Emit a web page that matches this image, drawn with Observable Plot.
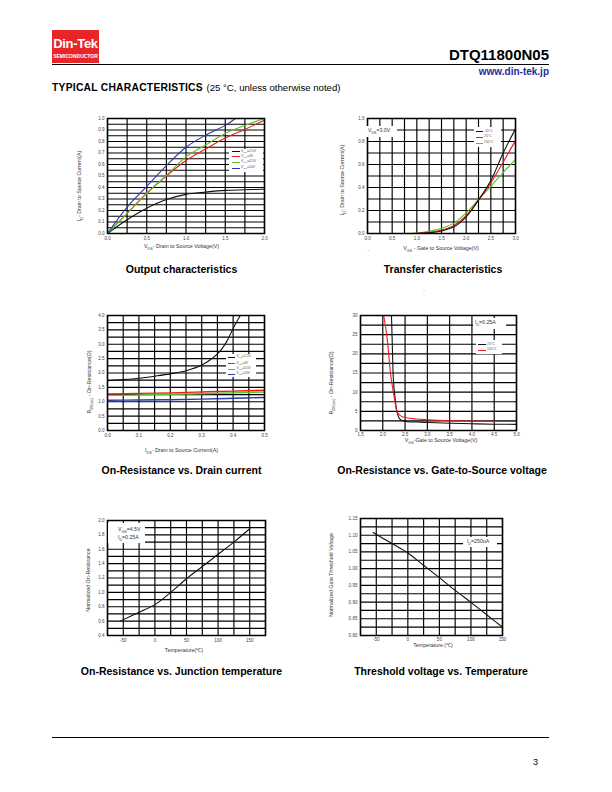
<!DOCTYPE html>
<html><head><meta charset="utf-8">
<script src="https://cdn.jsdelivr.net/npm/d3@7"></script>
<script src="https://cdn.jsdelivr.net/npm/@observablehq/plot@0.6"></script>
<style>
body{margin:0;background:#fff;}
#page{position:relative;width:612px;height:792px;background:#fff;font-family:"Liberation Sans",Arial,sans-serif;overflow:hidden;color:#000}
.t{position:absolute;white-space:nowrap;line-height:1}
sub{font-size:70%;vertical-align:-0.35em;line-height:0}
.box{position:absolute;background:#fff}
.sw{position:absolute;height:1px}
</style>
</head><body><div id="page"></div>
<script>
// ---------- DATA ----------
// Output characteristics
const outVds    = [0, 0.25, 0.5, 0.75, 1.0, 1.25, 1.5, 1.75, 2.0];
const outId2v5  = [0, 0.12, 0.22, 0.295, 0.34, 0.36, 0.375, 0.38, 0.385];
const outId4    = [0, 0.175, 0.35, 0.50, 0.635, 0.735, 0.83, 0.905, 0.985];
const outId4v5  = [0, 0.175, 0.35, 0.505, 0.665, 0.77, 0.87, 0.94, 1.0];
const outVds10  = [0, 0.25, 0.5, 0.75, 1.0, 1.25, 1.5, 1.63];
const outId10   = [0, 0.23, 0.41, 0.59, 0.75, 0.855, 0.94, 1.0];
const outLegend = ["V<sub>GS</sub>=2.5V","V<sub>GS</sub>=4V","V<sub>GS</sub>=4.5V","V<sub>GS</sub>=10V"];
// Transfer characteristics
const trVgs  = [0.75, 1.0, 1.25, 1.5, 1.75, 2.0, 2.25, 2.5, 2.75, 3.0];
const trM55  = [0, 0, 0.006, 0.022, 0.058, 0.145, 0.29, 0.46, 0.70, 0.91];
const tr25   = [0, 0.002, 0.01, 0.03, 0.07, 0.155, 0.29, 0.44, 0.62, 0.81];
const tr150  = [0, 0.005, 0.02, 0.045, 0.09, 0.18, 0.295, 0.41, 0.53, 0.645];
const trLegend = ["-55°C","25°C","150°C"];
// On-resistance vs drain current
const rdIdA   = [0, 0.05, 0.1, 0.15, 0.2, 0.25, 0.3, 0.33, 0.36, 0.38, 0.40, 0.423];
const rd2v5   = [1.73, 1.77, 1.82, 1.89, 1.97, 2.08, 2.28, 2.48, 2.78, 3.1, 3.55, 4.0];
const rdIdB   = [0, 0.1, 0.2, 0.3, 0.4, 0.5];
const rd4     = [1.27, 1.29, 1.31, 1.34, 1.37, 1.40];
const rd4v5   = [1.22, 1.24, 1.26, 1.28, 1.31, 1.34];
const rd10    = [1.05, 1.06, 1.07, 1.09, 1.12, 1.15];
// On-resistance vs gate voltage
const rgV25   = [2.195, 2.21, 2.23, 2.27, 2.32, 2.4, 2.55, 2.75, 3.0, 3.5, 4.0, 4.5, 5.0];
const rgR25   = [30, 23.9, 15.2, 9.1, 4.8, 2.8, 2.3, 2.2, 2.1, 1.9, 1.75, 1.65, 1.6];
const rgV150  = [2.02, 2.1, 2.17, 2.25, 2.32, 2.43, 2.5, 2.75, 3.0, 3.5, 4.0, 4.5, 5.0];
const rgR150  = [30, 23.9, 15.2, 9.1, 4.8, 3.6, 3.4, 3.0, 2.8, 2.55, 2.45, 2.38, 2.35];
const rgLegend = ["25°C","150°C"];
// Normalized on-resistance vs temperature
const tempR   = [-55, -25, 0, 25, 50, 75, 100, 125, 150];
const normR   = [0.6, 0.725, 0.83, 1.0, 1.19, 1.36, 1.53, 1.70, 1.885];
// Normalized threshold voltage vs temperature
const tempV   = [-55, -25, 0, 25, 50, 75, 100, 125, 150];
const normV   = [1.108, 1.075, 1.047, 1.01, 0.973, 0.935, 0.899, 0.862, 0.825];
// Tick labels
const t1x = [0, 0.5, 1.0, 1.5, 2.0];
const t1y = [0, 0.1, 0.2, 0.3, 0.4, 0.5, 0.6, 0.7, 0.8, 0.9, 1.0];
const t2x = [0, 0.5, 1.0, 1.5, 2.0, 2.5, 3.0];
const t2y = [0, 0.2, 0.4, 0.6, 0.8, 1.0];
const t3x = [0, 0.1, 0.2, 0.3, 0.4, 0.5];
const t3y = [0, 0.5, 1.0, 1.5, 2.0, 2.5, 3.0, 3.5, 4.0];
const t4x = [1.5, 2.0, 2.5, 3.0, 3.5, 4.0, 4.5, 5.0];
const t4y = [0, 5, 10, 15, 20, 25, 30];
const t5x = [-50, 0, 50, 100, 150];
const t5y = [0.4, 0.6, 0.8, 1.0, 1.2, 1.4, 1.6, 1.8, 2.0];
const t6x = [-50, 0, 50, 100, 150];
const t6y = [0.80, 0.85, 0.90, 0.95, 1.00, 1.05, 1.10, 1.15];

const BLACK = "#111", RED = "#ee1c1c", GREEN = "#5cc02e", BLUE = "#2a3aa8";

// ---------- HELPERS ----------
const page = document.getElementById("page");
function txt(html, x, y, opts = {}) {
  const d = document.createElement("div");
  d.className = "t";
  d.innerHTML = html;
  d.style.left = x + "px"; d.style.top = y + "px";
  d.style.fontSize = (opts.size || 5) + "px";
  if (opts.bold) d.style.fontWeight = "bold";
  if (opts.color) d.style.color = opts.color;
  if (opts.ls) d.style.letterSpacing = opts.ls + "px";
  let tr = opts.anchor === "middle" ? "translate(-50%,-50%)" : opts.anchor === "end" ? "translate(-100%,-50%)" : "translate(0,-50%)";
  if (opts.rotate) tr += " rotate(-90deg)";
  d.style.transform = tr;
  page.appendChild(d);
  return d;
}
function box(x, y, w, h) {
  const d = document.createElement("div");
  d.className = "box";
  Object.assign(d.style, {left: x + "px", top: y + "px", width: w + "px", height: h + "px"});
  page.appendChild(d);
}
function legend(items, colors, bx, by, bw, bh, sx, sw, tx, rows, fs) {
  box(bx, by, bw, bh);
  items.forEach((it, i) => {
    const s = document.createElement("div");
    s.className = "sw";
    Object.assign(s.style, {left: sx + "px", top: (rows[i] - 0.5) + "px", width: sw + "px", background: colors[i]});
    page.appendChild(s);
    txt(it, tx, rows[i], {size: fs, color: "#555"});
  });
}
function seriesLine(xs, ys, color, w = 1.1, curve = "catmull-rom") {
  return Plot.line(xs.map((v, i) => ({x: v, y: ys[i]})), {x: "x", y: "y", stroke: color, strokeWidth: w, curve, clip: true});
}
function chart(c) {
  const svg = Plot.plot({
    width: c.w, height: c.h,
    marginLeft: c.ml, marginRight: c.w - c.ml - c.pw, marginTop: c.mt, marginBottom: c.h - c.mt - c.ph,
    x: {domain: c.xd}, y: {domain: c.yd},
    style: {fontFamily: "Liberation Sans, Arial, sans-serif", background: "transparent", overflow: "visible"},
    marks: [
      Plot.gridX(c.gx, {stroke: "#000", strokeOpacity: 1, strokeWidth: 1.15}),
      Plot.gridY(c.gy, {stroke: "#000", strokeOpacity: 1, strokeWidth: 1.15}),
      ...c.lines,
      Plot.frame({stroke: "#000", strokeWidth: 1.5}),
      Plot.axisX(c.tx, {tickSize: 0, tickPadding: c.xpad || 3, tickFormat: c.xf, fontSize: c.fs || 4.5, fill: "#444", label: null}),
      Plot.axisY(c.ty, {tickSize: 0, tickPadding: c.ypad || 3, tickFormat: c.yf, fontSize: c.fs || 4.5, fill: "#444", label: null})
    ]
  });
  svg.style.position = "absolute";
  svg.style.left = (c.px - c.ml) + "px";
  svg.style.top = (c.py - c.mt) + "px";
  page.appendChild(svg);
}
const f1 = d3.format(".1f"), f2 = d3.format(".2f"), fi = d => String(d);

// ---------- HEADER ----------
(function(){
  const logo = document.createElement("div");
  Object.assign(logo.style, {position: "absolute", left: "52px", top: "30px", width: "47px", height: "33px", background: "#e8262a"});
  page.appendChild(logo);
  txt("Din-Tek", 75.5, 43, {size: 13, bold: true, color: "#fff", anchor: "middle", ls: -0.3});
  txt("SEMICONDUCTOR", 75.5, 56, {size: 5, bold: true, color: "#fff", anchor: "middle"});
  txt("DTQ11800N05", 549, 54, {size: 15, bold: true, anchor: "end"});
  const hr = document.createElement("div");
  Object.assign(hr.style, {position: "absolute", left: "52px", top: "63.5px", width: "497px", height: "1.3px", background: "#000"});
  page.appendChild(hr);
  txt("www.din-tek.jp", 549, 72, {size: 10, bold: true, anchor: "end", color: "#262d94"});
  txt("TYPICAL CHARACTERISTICS", 52, 88, {size: 10.3, bold: true, ls: 0.25});
  txt("(25 °C, unless otherwise noted)", 206.5, 88, {size: 9.6});
  const hr2 = document.createElement("div");
  Object.assign(hr2.style, {position: "absolute", left: "52px", top: "737px", width: "497px", height: "0.8px", background: "#000"});
  page.appendChild(hr2);
  txt("3", 533, 762, {size: 9});
})();

// ---------- CHART 1: Output ----------
chart({px: 107, py: 118, pw: 157, ph: 115, w: 215, h: 135, ml: 50, mt: 8,
  xd: [0, 2], yd: [0, 1], gx: d3.range(0, 2.01, 0.25), gy: d3.range(0, 1.001, 0.05),
  tx: t1x, ty: t1y, xf: f1, yf: f1,
  lines: [seriesLine(outVds, outId2v5, BLACK), seriesLine(outVds, outId4, RED), seriesLine(outVds, outId4v5, GREEN), seriesLine(outVds10, outId10, BLUE)]});
legend(outLegend, [BLACK, RED, GREEN, BLUE], 229, 148.5, 34, 23.5, 231.5, 8, 241, [151.7, 156.9, 162.3, 168.3], 3.5);
txt("V<sub>DS</sub>- Drain to Source Voltage(V)", 181.5, 246.5, {size: 5.3, anchor: "middle", color: "#333"});
txt("I<sub>D</sub>- Drain to Source Current(A)", 80, 186, {size: 5.3, anchor: "middle", rotate: true, color: "#333"});
txt("Output characteristics", 181.5, 269, {size: 10.5, bold: true, anchor: "middle"});

// ---------- CHART 2: Transfer ----------
chart({px: 367, py: 118, pw: 148, ph: 115, w: 205, h: 135, ml: 50, mt: 8,
  xd: [0, 3], yd: [0, 1], gx: d3.range(0, 3.01, 0.25), gy: d3.range(0, 1.001, 0.1),
  tx: t2x, ty: t2y, xf: f1, yf: f1,
  lines: [seriesLine(trVgs, tr150, GREEN), seriesLine(trVgs, tr25, RED), seriesLine(trVgs, trM55, BLACK)]});
legend(trLegend, [BLACK, RED, GREEN], 473.5, 127, 27, 20, 475.5, 7, 484, [131.5, 137.3, 143], 3.4);
box(365.5, 125.5, 31, 11);
txt("V<sub>DS</sub>=3.0V", 368, 130.5, {size: 5.2, color: "#333"});
txt("V<sub>GS</sub> - Gate to Source Voltage(V)", 441, 249, {size: 5.3, anchor: "middle", color: "#333"});
txt("I<sub>D</sub>- Drain to Source Current(A)", 343, 180, {size: 5.3, anchor: "middle", rotate: true, color: "#333"});
txt(".", 368, 249, {size: 6, anchor: "middle"});
txt(".", 424, 289, {size: 5, anchor: "middle"});
txt("Transfer characteristics", 443, 269, {size: 10.5, bold: true, anchor: "middle"});

// ---------- CHART 3: Rds vs Id ----------
chart({px: 107, py: 315, pw: 157, ph: 115, w: 215, h: 135, ml: 50, mt: 8,
  xd: [0, 0.5], yd: [0, 4], gx: d3.range(0, 0.501, 0.05), gy: d3.range(0, 4.001, 0.25),
  tx: t3x, ty: t3y, xf: f1, yf: f1,
  lines: [seriesLine(rdIdB, rd10, BLUE, 1.4), seriesLine(rdIdB, rd4v5, GREEN, 1.4), seriesLine(rdIdB, rd4, RED, 1.4), seriesLine(rdIdA, rd2v5, BLACK, 1.1, "monotone-x")]});
legend(outLegend, [BLACK, RED, GREEN, BLUE], 226, 354, 30, 23, 228, 7, 236.5, [357.3, 363.6, 369, 374.3], 3.3);
txt("I<sub>DS</sub>- Drain to Source Current(A)", 181.5, 450.7, {size: 5.3, anchor: "middle", color: "#333"});
txt("R<sub>DS(on)</sub> - On-Resistance(Ω)", 90, 382, {size: 5.3, anchor: "middle", rotate: true, color: "#333"});
txt("On-Resistance vs. Drain current", 181.5, 470, {size: 10.5, bold: true, anchor: "middle"});

// ---------- CHART 4: Rds vs Vgs ----------
chart({px: 360, py: 315, pw: 156, ph: 115, w: 215, h: 135, ml: 50, mt: 8,
  xd: [1.5, 5], yd: [0, 30], gx: d3.range(1.5, 5.01, 0.5), gy: d3.range(0, 30.01, 2.5),
  tx: t4x, ty: t4y, xf: f1, yf: fi, xpad: 2.5,
  lines: [seriesLine(rgV25, rgR25, BLACK, 1.1, "monotone-x"), seriesLine(rgV150, rgR150, RED, 1.1, "monotone-x")]});
box(473, 318, 33, 11);
txt("I<sub>D</sub>=0.25A", 475, 323.3, {size: 5.2, color: "#333"});
legend(rgLegend, [BLACK, RED], 476, 340, 26, 14, 477.5, 8, 487, [344.5, 350.3], 3.4);
txt("V<sub>GS</sub>-Gate to Source Voltage(V)", 441, 441, {size: 5.3, anchor: "middle", color: "#333"});
txt("R<sub>DS(on)</sub> - On-Resistance(Ω)", 332, 383, {size: 5.3, anchor: "middle", rotate: true, color: "#333"});
txt("On-Resistance vs. Gate-to-Source voltage", 442, 470, {size: 10.5, bold: true, anchor: "middle"});

// ---------- CHART 5: Norm Rds vs T ----------
chart({px: 107, py: 520, pw: 158, ph: 115, w: 215, h: 135, ml: 50, mt: 8,
  xd: [-75, 175], yd: [0.4, 2.0], gx: d3.range(-75, 175.1, 25), gy: d3.range(0.4, 2.001, 0.1),
  tx: t5x, ty: t5y, xf: fi, yf: f1, xpad: 3.5,
  lines: [seriesLine(tempR, normR, BLACK, 1.1)]});
box(107.7, 523, 37, 20);
txt("V<sub>GS</sub>=4.5V", 118, 530, {size: 5.2, color: "#333"});
txt("I<sub>D</sub>=0.25A", 118, 538.3, {size: 5.2, color: "#333"});
txt("Temperature(℃)", 184, 651, {size: 5.3, anchor: "middle", color: "#333"});
txt("Normalized On-Resistance", 89, 580, {size: 5.3, anchor: "middle", rotate: true, color: "#333"});
txt("On-Resistance vs. Junction temperature", 181.5, 671, {size: 10.5, bold: true, anchor: "middle"});

// ---------- CHART 6: Norm Vth vs T ----------
chart({px: 360, py: 518, pw: 142, ph: 117, w: 200, h: 137, ml: 50, mt: 8,
  xd: [-75, 150], yd: [0.8, 1.15], gx: d3.range(-75, 150.1, 25), gy: d3.range(0.8, 1.1501, 0.025),
  tx: t6x, ty: t6y, xf: fi, yf: f2, fs: 4.6, xpad: 2.5,
  lines: [seriesLine(tempV, normV, BLACK, 1.1)]});
box(463, 537, 34, 10);
txt("I<sub>D</sub>=250uA", 467, 541.7, {size: 5.2, color: "#333"});
txt("Temperature (℃)", 433, 645.5, {size: 5.3, anchor: "middle", color: "#333"});
txt("Normalized Gate Threshold Voltage", 331.7, 575, {size: 5.3, anchor: "middle", rotate: true, color: "#333"});
txt("Threshold voltage vs. Temperature", 441, 671, {size: 10.5, bold: true, anchor: "middle"});
</script>
</body></html>
